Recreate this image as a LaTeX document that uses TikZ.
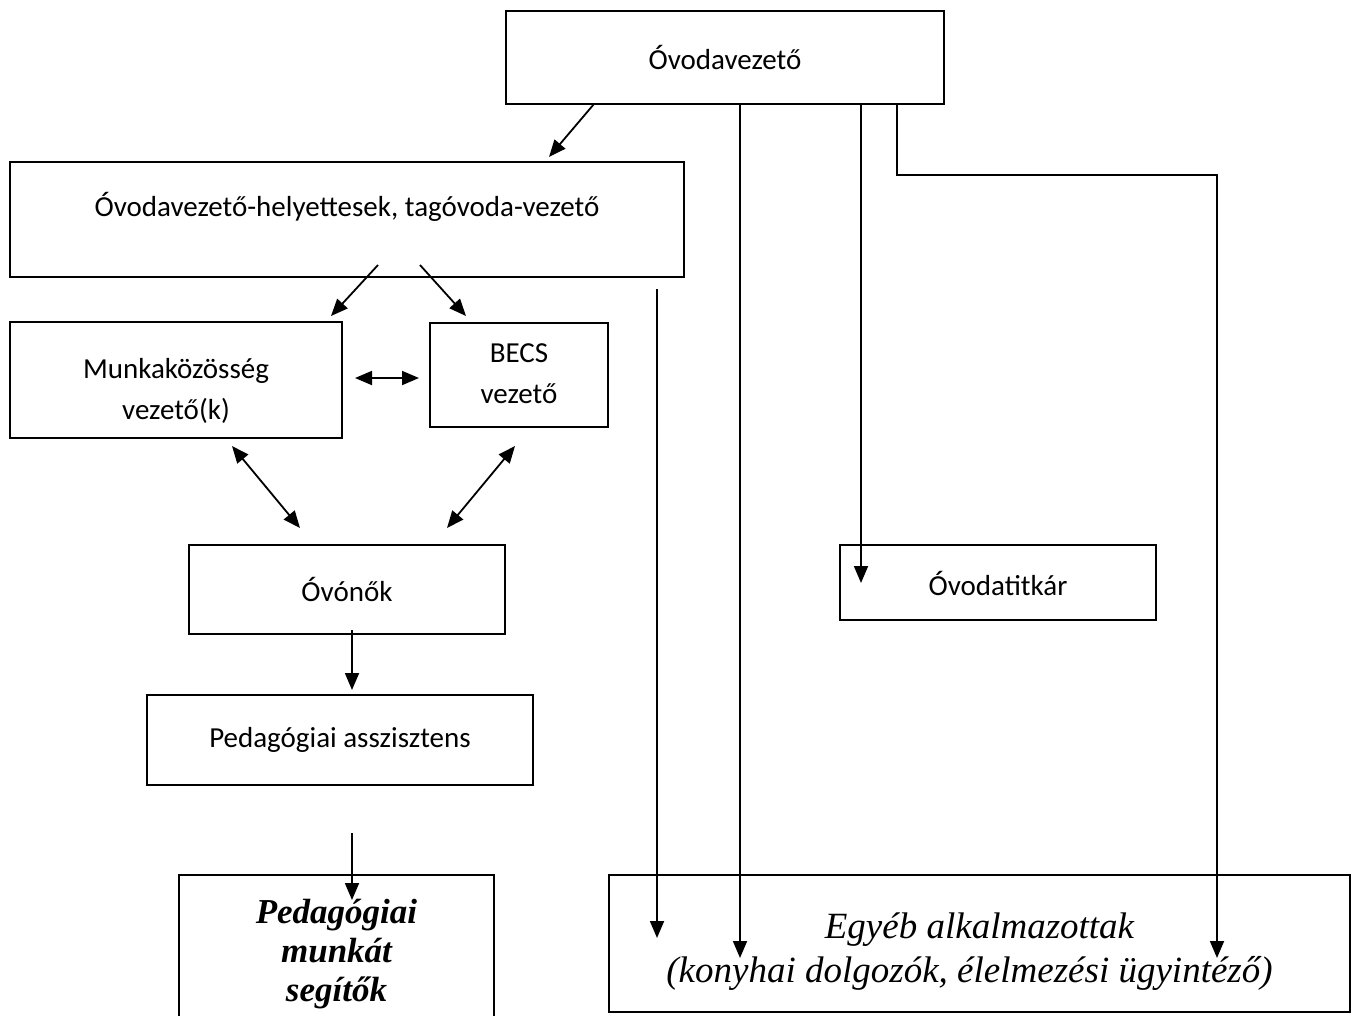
\documentclass[tikz,border=0pt]{standalone}
\usepackage{fontspec}
\setmainfont{Carlito}
\newfontfamily\palfont{Liberation Serif}
\usetikzlibrary{arrows.meta,positioning}

% lift the text of a box without changing its size
\newcommand{\boxlines}[2]{\raisebox{#1}[\height][\depth]{\begin{tabular}{@{}c@{}}#2\end{tabular}}}

\tikzset{
  box/.style={draw,line width=2.2pt,align=center,inner sep=0pt,font=\fontsize{29}{41}\selectfont},
  conn/.style={line width=1.8pt,-{Triangle[length=17pt,width=14pt]}},
  both/.style={line width=1.8pt,{Triangle[length=17pt,width=14pt]}-{Triangle[length=17pt,width=14pt]}}
}

\begin{document}
\begin{tikzpicture}[x=1pt,y=-1pt]
  \useasboundingbox (0,0) rectangle (1354,1015);
  % boxes
  \node[box,minimum width=438pt,minimum height=93pt] (vez) at (725,57.5) {Óvodavezető};
  \node[box,minimum width=674pt,minimum height=115pt] (helyet) at (347,219.5) {\boxlines{11pt}{Óvodavezető-helyettesek, tagóvoda-vezető}};
  \node[box,minimum width=332pt,minimum height=116pt] (munka) at (176,380) {\boxlines{-11pt}{Munkaközösség\\vezető(k)}};
  \node[box,minimum width=178pt,minimum height=104pt] (becs) at (519,375) {\boxlines{0pt}{BECS\\vezető}};
  \node[box,minimum width=316pt,minimum height=89pt] (ovonok) at (347,589.5) {Óvónők};
  \node[box,minimum width=316pt,minimum height=75pt] (titkar) at (998,582.5) {\boxlines{-5pt}{Óvodatitkár}};
  \node[box,minimum width=386pt,minimum height=90pt] (asszisztens) at (340,740) {Pedagógiai asszisztens};
  \node[box,minimum width=315pt,minimum height=152pt,font=\palfont\bfseries\itshape\fontsize{35}{39}\selectfont] (segitok) at (336.5,951) {\boxlines{-4pt}{Pedagógiai\\munkát\\segítők}};
  \node[box,minimum width=741pt,minimum height=137pt,font=\palfont\itshape\fontsize{37}{44}\selectfont] (egyeb) at (979.5,943.5) {\boxlines{-8pt}{Egyéb alkalmazottak\\(konyhai dolgozók, élelmezési ügyintéző)\hspace*{20pt}}};
  % free arrow ends
  \coordinate (v1) at (594,104);   \coordinate (h1) at (549,157);
  \coordinate (h2) at (378,265);   \coordinate (m1) at (331,316);
  \coordinate (h3) at (420,265);   \coordinate (b1) at (466,316);
  \coordinate (m2) at (355,378);   \coordinate (b2) at (419,378);
  \coordinate (m3) at (232,446);   \coordinate (o1) at (300,528);
  \coordinate (b3) at (515,446);   \coordinate (o2) at (447,528);
  \coordinate (o3) at (352,630);   \coordinate (a1) at (352,690);
  \coordinate (a2) at (352,833);   \coordinate (s1) at (352,900);
  \coordinate (h4) at (657,289);   \coordinate (e1) at (657,938);
  \coordinate (e2) at (740,958);   \coordinate (e3) at (1217,958);
  \coordinate (t1) at (861,583);
  % connectors
  \draw[conn] (v1) -- (h1);
  \draw[conn] (h2) -- (m1);
  \draw[conn] (h3) -- (b1);
  \draw[both] (m2) -- (b2);
  \draw[both] (m3) -- (o1);
  \draw[both] (b3) -- (o2);
  \draw[conn] (o3) -- (a1);
  \draw[conn] (a2) -- (s1);
  \draw[conn] (h4) -- (e1);
  \draw[conn] (vez.south -| e2) -- (e2);
  \draw[conn] (vez.south -| t1) -- (t1);
  \draw[conn] ([xshift=172pt]vez.south) -- ++(0,70) -| (e3);
\end{tikzpicture}
\end{document}
